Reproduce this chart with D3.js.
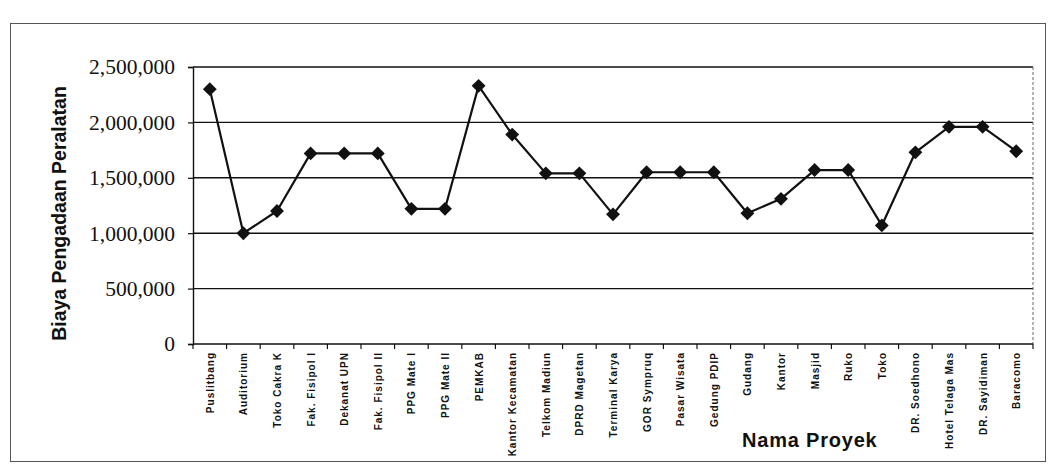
<!DOCTYPE html>
<html>
<head>
<meta charset="utf-8">
<script src="https://cdn.jsdelivr.net/npm/d3@7"></script>
<style>
  html, body { margin: 0; padding: 0; background: #fff; }
  svg { display: block; }
</style>
</head>
<body>
<svg id="chart" width="1051" height="465"></svg>
<script>
// Project names (x axis)
const projects = [
  "Puslitbang", "Auditorium", "Toko Cakra K", "Fak. Fisipol I", "Dekanat UPN",
  "Fak. Fisipol II", "PPG Mate I", "PPG Mate II", "PEMKAB", "Kantor Kecamatan",
  "Telkom Madiun", "DPRD Magetan", "Terminal Karya", "GOR Sympruq", "Pasar Wisata",
  "Gedung PDIP", "Gudang", "Kantor", "Masjid", "Ruko",
  "Toko", "DR. Soedhono", "Hotel Telaga Mas", "DR. Sayidiman", "Baracomo"
];

// Equipment procurement cost per project
const biaya = [
  2300000, 1000000, 1200000, 1720000, 1720000,
  1720000, 1220000, 1220000, 2330000, 1890000,
  1540000, 1540000, 1170000, 1550000, 1550000,
  1550000, 1180000, 1310000, 1570000, 1570000,
  1070000, 1730000, 1960000, 1960000, 1740000
];

// Y axis ticks
const yTicks = [0, 500000, 1000000, 1500000, 2000000, 2500000];

const svg = d3.select("#chart");
const plot = { left: 193, right: 1033, top: 67, bottom: 344 };

// outer chart frame
svg.append("rect")
  .attr("x", 10.5).attr("y", 23.5)
  .attr("width", 1035).attr("height", 438)
  .attr("fill", "none").attr("stroke", "#555").attr("stroke-width", 1);

const x = d3.scaleBand().domain(projects).range([plot.left, plot.right]).padding(0);
const y = d3.scaleLinear().domain([0, 2500000]).range([plot.bottom, plot.top]);

// gridlines
svg.append("g")
  .selectAll("line")
  .data(yTicks.filter(d => d > 0))
  .join("line")
  .attr("x1", plot.left).attr("x2", plot.right)
  .attr("y1", d => y(d)).attr("y2", d => y(d))
  .attr("stroke", "#111").attr("stroke-width", 1.4);

// right edge of plot area
svg.append("line")
  .attr("x1", plot.right).attr("x2", plot.right)
  .attr("y1", plot.top).attr("y2", plot.bottom)
  .attr("stroke", "#666").attr("stroke-width", 1)
  .attr("stroke-dasharray", "3,2");

// y axis
const yAxis = d3.axisLeft(y)
  .tickValues(yTicks)
  .tickFormat(d3.format(","))
  .tickSize(5)
  .tickPadding(13);
const gy = svg.append("g").attr("transform", `translate(${plot.left},0)`).call(yAxis);
gy.select(".domain").attr("stroke", "#111").attr("stroke-width", 1.4);
gy.selectAll(".tick line").attr("stroke", "#111").attr("stroke-width", 1.2);
gy.selectAll(".tick text")
  .attr("font-family", "'Liberation Serif', 'Times New Roman', serif")
  .attr("font-size", 21.5)
  .attr("fill", "#111");

// x axis: ticks sit on the category boundaries
const gx = svg.append("g").attr("transform", `translate(0,${plot.bottom})`);
gx.append("line")
  .attr("x1", plot.left).attr("x2", plot.right)
  .attr("y1", 0).attr("y2", 0)
  .attr("stroke", "#111").attr("stroke-width", 1.6);
gx.selectAll("line.tk")
  .data(projects.concat(["_end"]))
  .join("line")
  .attr("class", "tk")
  .attr("x1", (d, i) => plot.left + i * x.step())
  .attr("x2", (d, i) => plot.left + i * x.step())
  .attr("y1", 0).attr("y2", 5)
  .attr("stroke", "#111").attr("stroke-width", 1.2);
gx.selectAll("text")
  .data(projects)
  .join("text")
  .attr("transform", d => `translate(${x(d) + x.bandwidth() / 2 + 4},8) rotate(-90)`)
  .attr("text-anchor", "end")
  .attr("font-family", "'Liberation Sans', Arial, sans-serif")
  .attr("font-weight", "bold")
  .attr("font-size", 10)
  .attr("letter-spacing", "1px")
  .attr("fill", "#111")
  .text(d => d);

// series line
const line = d3.line()
  .x((d, i) => x(projects[i]) + x.bandwidth() / 2)
  .y(d => y(d));
svg.append("path")
  .datum(biaya)
  .attr("d", line)
  .attr("fill", "none")
  .attr("stroke", "#111")
  .attr("stroke-width", 2.2)
  .attr("stroke-linejoin", "round");

// diamond markers
const diamond = d3.symbol().type(d3.symbolSquare).size(96);
svg.append("g")
  .selectAll("path")
  .data(biaya)
  .join("path")
  .attr("d", diamond)
  .attr("transform", (d, i) => `translate(${x(projects[i]) + x.bandwidth() / 2},${y(d)}) rotate(45)`)
  .attr("fill", "#111");

// axis titles
svg.append("text")
  .attr("transform", `translate(66,${(plot.top + plot.bottom) / 2 + 8}) rotate(-90)`)
  .attr("text-anchor", "middle")
  .attr("font-family", "'Liberation Sans', Arial, sans-serif")
  .attr("font-weight", "bold")
  .attr("font-size", 19.5)
  .attr("fill", "#111")
  .text("Biaya Pengadaan Peralatan");

svg.append("text")
  .attr("x", 742).attr("y", 447)
  .attr("font-family", "'Liberation Sans', Arial, sans-serif")
  .attr("font-weight", "bold")
  .attr("font-size", 20)
  .attr("letter-spacing", "0.8px")
  .attr("fill", "#111")
  .text("Nama Proyek");
</script>
</body>
</html>
